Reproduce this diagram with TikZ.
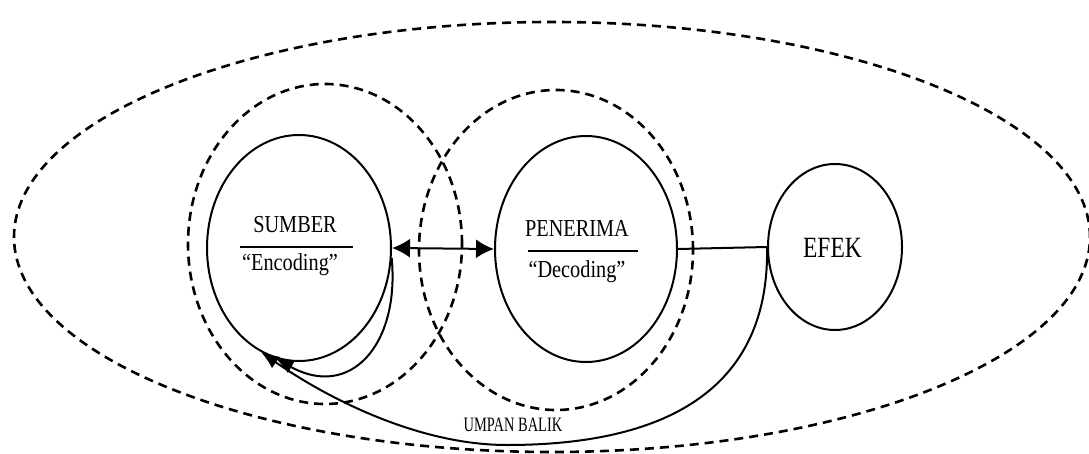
\documentclass[tikz,border=0pt]{standalone}
\usepackage{fontspec}
\usepackage{graphicx}
\setmainfont{Liberation Serif}
\usetikzlibrary{shapes.geometric,arrows.meta}
\begin{document}
\begin{tikzpicture}[x=1pt,y=-1pt,
  solidring/.style={draw, ellipse, line width=2pt, inner sep=0pt},
  dashring/.style={draw, ellipse, line width=2.6pt, dash pattern=on 9pt off 6pt, inner sep=0pt},
  link/.style={line width=2pt},
  headtip/.style={-{Latex[length=18pt,width=14pt]}},
  bothtips/.style={{Latex[length=18pt,width=19pt]}-{Latex[length=18pt,width=19pt]}},
  bar/.style={line width=2.8pt},
  lbl/.style={inner sep=0pt, anchor=base},
  bigtext/.style={lbl, font=\fontsize{20.3}{24}\selectfont},
]
% canvas
\fill[white] (0,0) rectangle (1089,454);
\useasboundingbox (0,0) rectangle (1089,454);

% dashed boundaries
\node[dashring, minimum width=1076pt, minimum height=430pt] (outer) at (552,237) {};
\node[dashring, minimum width=274pt, minimum height=320pt] (srczone) at (325,244) {};
\node[dashring, minimum width=274pt, minimum height=320pt] (dstzone) at (556,250) {};

% participants
\node[solidring, minimum width=184pt, minimum height=226pt] (src) at (299,248) {};
\node[solidring, minimum width=182pt, minimum height=226pt] (dst) at (586,249) {};
\node[solidring, minimum width=134pt, minimum height=166pt] (eff) at (835,247) {};

% labels
\node[bigtext] (srcname) at (295,233) {\scalebox{1}[1.2]{SUMBER}};
\draw[bar] (240,247) -- (353,247);
\node[bigtext] (srcrole) at (290,270) {\scalebox{1}[1.2]{“Encoding”}};

\node[bigtext] (dstname) at (577,237) {\scalebox{1}[1.2]{PENERIMA}};
\draw[bar] (528,251) -- (638,251);
\node[bigtext] (dstrole) at (577,277) {\scalebox{1}[1.2]{“Decoding”}};

\node[lbl, font=\fontsize{23.5}{28}\selectfont] (effname) at (832.5,258) {\scalebox{1}[1.25]{EFEK}};

\node[lbl, font=\fontsize{17}{20}\selectfont] (fbname) at (513,431) {\scalebox{0.85}[1.2]{UMPAN BALIK}};

% connectors
\draw[link, bothtips] (src.east) -- (dst.west);
\draw[link] (dst.east) -- (eff.west);
\draw[link, headtip] (src.354) .. controls (400,345) and (350,400) .. (src.258);
\draw[link, headtip] (eff.west) .. controls (770,400) and (650,445) .. (507,445)
  .. controls (420,445) and (330,400) .. (src.250);
\end{tikzpicture}
\end{document}
